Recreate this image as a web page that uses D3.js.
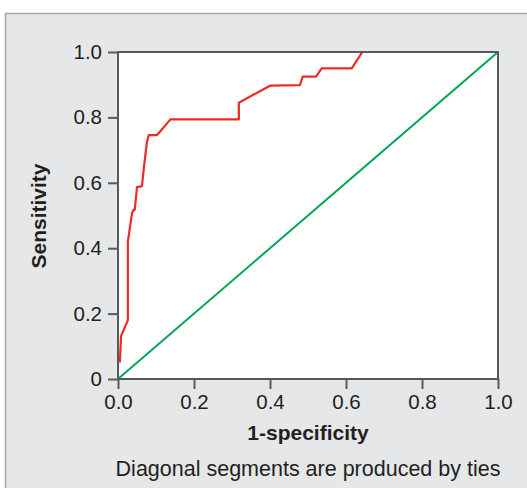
<!DOCTYPE html>
<html lang="en">
<head>
  <meta charset="UTF-8">
  <title>ROC curve</title>
  <style>
    body { margin: 0; background: #fff; }
    svg { display: block; }
    text { font-family: "Liberation Sans", Arial, sans-serif; fill: #231f20; }
    .tick text { font-size: 20.5px; }
    .lbl { font-size: 21px; font-weight: bold; }
    .cap { font-size: 21.5px; }
  </style>
</head>
<body>
  <svg width="527" height="488"></svg>
  <script src="https://d3js.org/d3.v7.min.js"></script>
  <script>
    // ROC points (1-specificity, sensitivity)
    const fpr = [0.003, 0.005, 0.008, 0.026, 0.026, 0.037, 0.041, 0.044, 0.050, 0.063, 0.068, 0.076, 0.081, 0.103, 0.138, 0.318, 0.318, 0.400, 0.479, 0.486, 0.521, 0.536, 0.615, 0.643];
    const tpr = [0.053, 0.053, 0.131, 0.180, 0.420, 0.508, 0.517, 0.517, 0.587, 0.590, 0.645, 0.724, 0.746, 0.746, 0.794, 0.794, 0.845, 0.897, 0.899, 0.925, 0.925, 0.950, 0.950, 1.000];
    // reference line
    const refX = [0, 1];
    const refY = [0, 1];

    const xTicks = [0, 0.2, 0.4, 0.6, 0.8, 1.0];
    const yTicks = [0, 0.2, 0.4, 0.6, 0.8, 1.0];
    const xTickLabels = ["0.0", "0.2", "0.4", "0.6", "0.8", "1.0"];
    const yTickLabels = ["0", "0.2", "0.4", "0.6", "0.8", "1.0"];

    const svg = d3.select("svg");

    // grey panel behind everything
    svg.append("rect")
      .attr("x", 5.5).attr("y", 13.5)
      .attr("width", 530).attr("height", 490)
      .attr("fill", "#e6e7e9")
      .attr("stroke", "#a7a9ac")
      .attr("stroke-width", 1.5);

    const x = d3.scaleLinear().domain([0, 1]).range([118, 498]);
    const y = d3.scaleLinear().domain([0, 1]).range([379, 52]);

    svg.append("rect")
      .attr("x", x(0)).attr("y", y(1))
      .attr("width", x(1) - x(0)).attr("height", y(0) - y(1))
      .attr("fill", "#fff");

    const line = d3.line().x(d => x(d[0])).y(d => y(d[1]));

    svg.append("path")
      .datum(refX.map((v, i) => [v, refY[i]]))
      .attr("d", line)
      .attr("fill", "none")
      .attr("stroke", "#00a651")
      .attr("stroke-width", 2);

    svg.append("path")
      .datum(fpr.map((v, i) => [v, tpr[i]]))
      .attr("d", line)
      .attr("fill", "none")
      .attr("stroke", "#ee2a24")
      .attr("stroke-width", 2.2)
      .attr("stroke-linejoin", "round");

    // frame
    svg.append("rect")
      .attr("x", x(0)).attr("y", y(1))
      .attr("width", x(1) - x(0)).attr("height", y(0) - y(1))
      .attr("fill", "none")
      .attr("stroke", "#58595b")
      .attr("stroke-width", 2);

    const xAxis = svg.append("g")
      .attr("transform", `translate(0,${y(0)})`)
      .call(d3.axisBottom(x).tickValues(xTicks).tickFormat((d, i) => xTickLabels[i]).tickSize(10).tickPadding(5));
    const yAxis = svg.append("g")
      .attr("transform", `translate(${x(0)},0)`)
      .call(d3.axisLeft(y).tickValues(yTicks).tickFormat((d, i) => yTickLabels[i]).tickSize(10).tickPadding(6));

    [xAxis, yAxis].forEach(g => {
      g.select(".domain").remove();
      g.selectAll(".tick line").attr("stroke", "#58595b").attr("stroke-width", 2);
      g.selectAll(".tick text").attr("fill", "#231f20");
    });

    svg.append("text")
      .attr("class", "lbl")
      .attr("x", 308).attr("y", 440)
      .attr("text-anchor", "middle")
      .text("1-specificity");

    svg.append("text")
      .attr("class", "lbl")
      .attr("transform", "translate(46,216) rotate(-90)")
      .attr("text-anchor", "middle")
      .text("Sensitivity");

    svg.append("text")
      .attr("class", "cap")
      .attr("x", 308).attr("y", 476)
      .attr("text-anchor", "middle")
      .text("Diagonal segments are produced by ties");
  </script>
</body>
</html>
